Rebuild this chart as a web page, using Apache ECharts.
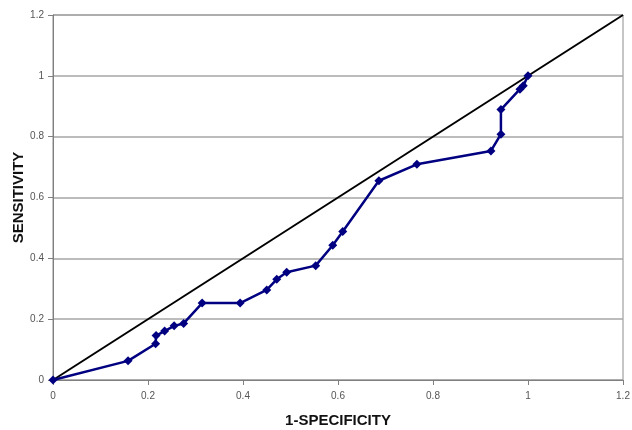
<!DOCTYPE html>
<html>
<head>
<meta charset="utf-8">
<script src="https://cdn.jsdelivr.net/npm/echarts@6/dist/echarts.min.js"></script>
<style>html,body{margin:0;padding:0;background:#fff}#c{width:632px;height:430px}</style>
</head>
<body>
<div id="c"></div>
<script>
const specificity1 = [0, 0.158, 0.216, 0.217, 0.235, 0.255, 0.275, 0.314, 0.394, 0.45, 0.471, 0.492, 0.553, 0.589, 0.61, 0.686, 0.766, 0.922, 0.943, 0.943, 0.983, 0.99, 1.0];
const sensitivity = [0, 0.063, 0.119, 0.146, 0.161, 0.178, 0.186, 0.253, 0.253, 0.296, 0.331, 0.354, 0.376, 0.443, 0.488, 0.655, 0.709, 0.753, 0.808, 0.889, 0.956, 0.967, 1.0];
const refLineX = [0, 1.2];
const refLineY = [0, 1.2];
const axisTicks = [0, 0.2, 0.4, 0.6, 0.8, 1, 1.2];

const chart = echarts.init(document.getElementById('c'), null, {renderer: 'canvas'});
const axisCommon = {
  min: 0, max: 1.2, interval: 0.2,
  axisLine: {show: true, lineStyle: {color: '#7f7f7f', width: 1}},
  axisTick: {show: true, inside: false, length: 5, lineStyle: {color: '#7f7f7f'}},
  axisLabel: {color: '#555', fontSize: 10, fontFamily: 'Liberation Sans, Arial, sans-serif',
    formatter: v => String(axisTicks.find(t => Math.abs(t - v) < 1e-6) ?? v)},
  nameMoveOverlap: false,
  nameTextStyle: {color: '#111', fontSize: 15, fontWeight: 'bold', fontFamily: 'Liberation Sans, Arial, sans-serif'}
};
chart.setOption({
  animation: false,
  grid: {left: 53, right: 9, top: 15, bottom: 50, containLabel: false, outerBoundsMode: 'none',
    show: true, borderColor: '#8c8c8c', borderWidth: 1},
  xAxis: Object.assign({}, axisCommon, {
    type: 'value', name: '1-SPECIFICITY', nameLocation: 'middle', nameGap: 33,
    axisLabel: Object.assign({}, axisCommon.axisLabel, {margin: 11}),
    splitLine: {show: false}
  }),
  yAxis: Object.assign({}, axisCommon, {
    type: 'value', name: 'SENSITIVITY', nameLocation: 'middle', nameGap: 27,
    axisLabel: Object.assign({}, axisCommon.axisLabel, {margin: 9}),
    splitLine: {show: true, lineStyle: {color: '#a6a6a6', width: 1.5}}
  }),
  series: [
    {
      type: 'line', data: refLineX.map((x, i) => [x, refLineY[i]]),
      symbol: 'none', lineStyle: {color: '#000', width: 2}, z: 2
    },
    {
      type: 'line', data: specificity1.map((x, i) => [x, sensitivity[i]]),
      symbol: 'diamond', symbolSize: 9, itemStyle: {color: '#000080'},
      lineStyle: {color: '#000080', width: 2.5}, z: 3
    }
  ]
});
</script>
</body>
</html>
